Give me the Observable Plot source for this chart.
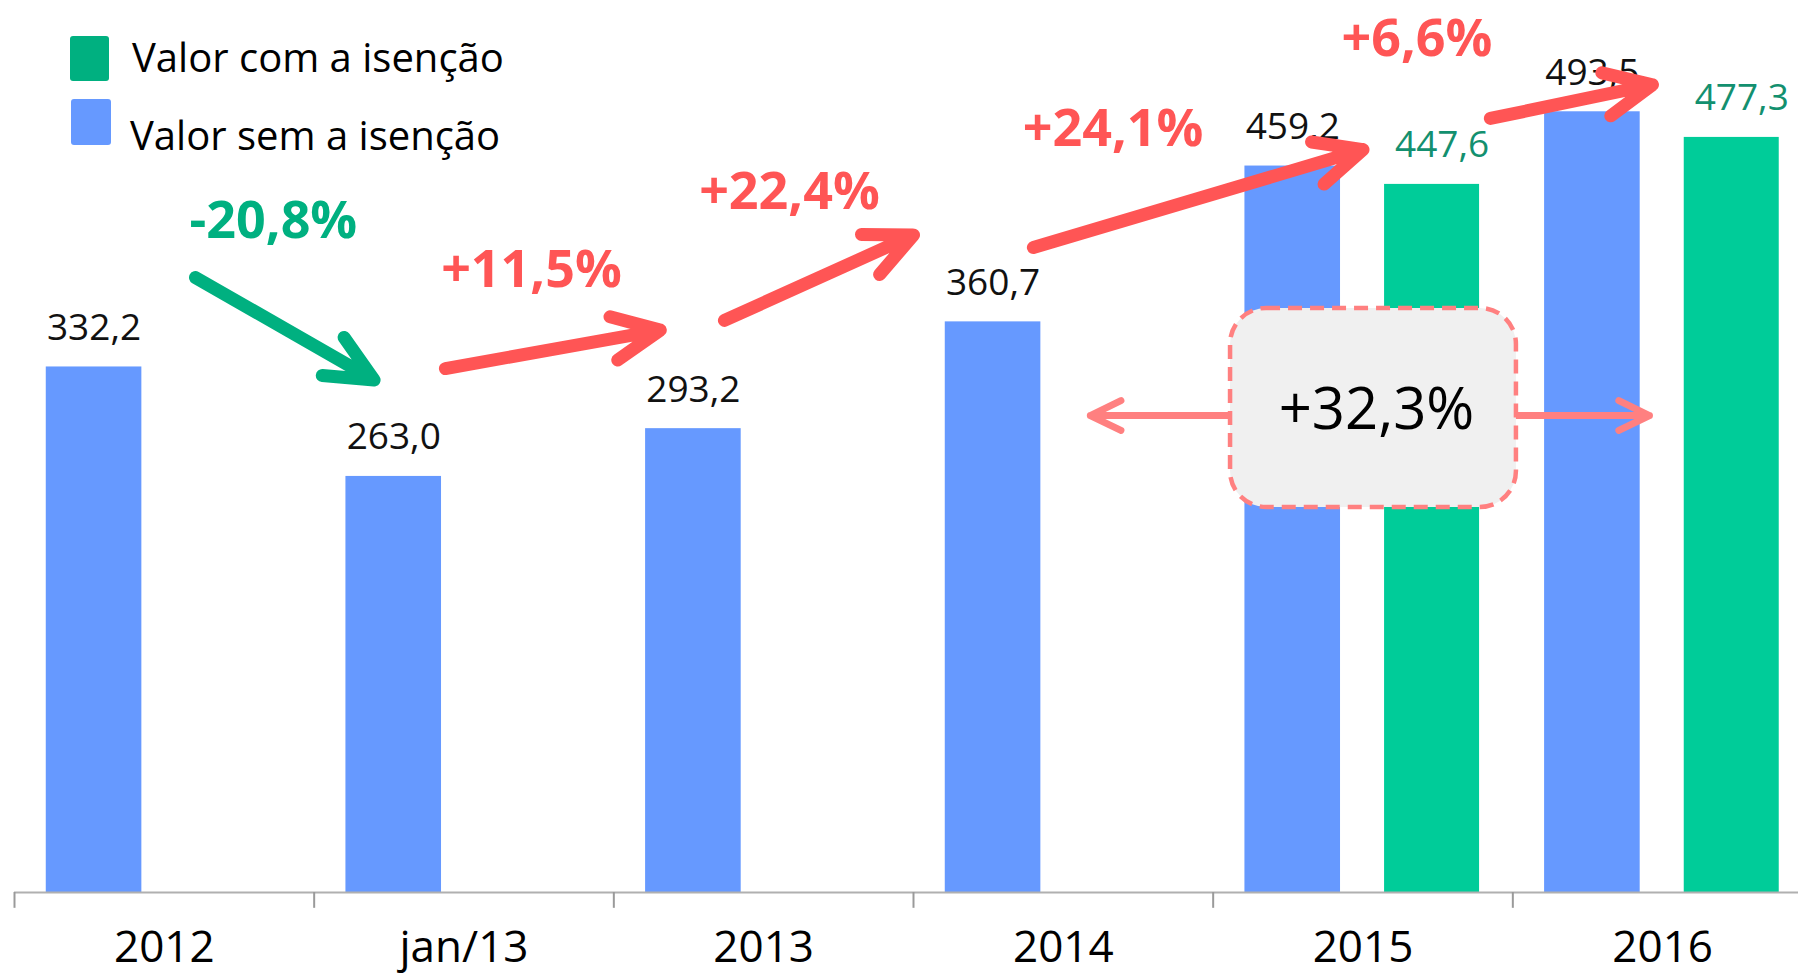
<!DOCTYPE html>
<html>
<head>
<meta charset="utf-8">
<script src="https://cdn.jsdelivr.net/npm/d3@7"></script>
<script src="https://cdn.jsdelivr.net/npm/@observablehq/plot@0.6"></script>
<style>
html, body { margin: 0; padding: 0; overflow: hidden; background: #fff; }
#wrap { position: relative; width: 1798px; height: 975px; overflow: hidden; }
#legend { position: absolute; left: 0; top: 0; font-family: 'Open Sans', sans-serif; color: #000; }
.sw { position: absolute; border-radius: 3px; }
.lt { position: absolute; font-size: 40px; line-height: 1; white-space: nowrap; }
</style>
</head>
<body>
<div id="wrap">
  <div id="chart"></div>
  <div id="legend"></div>
</div>
<script>
// ---------- data ----------
const categories = ["2012", "jan/13", "2013", "2014", "2015", "2016"];
const valorSemIsencao = [332.2, 263.0, 293.2, 360.7, 459.2, 493.5];
const valorComIsencao = [null, null, null, null, 447.6, 477.3];
const seriesNames = ["Valor com a isenção", "Valor sem a isenção"];
const changeLabels = ["-20,8%", "+11,5%", "+22,4%", "+24,1%", "+6,6%"];
const totalChangeLabel = "+32,3%";

// annotation anchors in data units: [category position, value]
const changeArrowStart = [[0.604, 388.7], [1.438, 331.2], [2.369, 361.6], [3.400, 407.7], [4.925, 489.3]];
const changeArrowEnd   = [[1.200, 324.0], [2.155, 355.5], [3.000, 415.6], [4.500, 469.6], [5.466, 510.6]];
const changeLabelAt    = [[0.864, 424.5], [1.725, 393.2], [2.586, 442.7], [3.666, 482.7], [4.680, 539.0]];
const totalBox = {x1: 4.058, x2: 5.012, y1: 243.4, y2: 369.2};
const totalLabelAt = [4.545, 305.0];
const totalArrows = [[4.058, 3.59, 301.5], [5.012, 5.456, 301.5]];

// ---------- styles ----------
const BLUE = "#6699ff", GREEN = "#00cc99", GREEN_DARK = "#00b080", GREEN_TEXT = "#13906f";
const RED = "#ff5555", SALMON = "#ff8080";
const slot = {sem: [0.106, 0.425], com: [0.572, 0.889]};
const fmt = v => v.toFixed(1).replace(".", ",");

const semRows = categories.map((c, i) => ({c, i, v: valorSemIsencao[i]})).filter(d => d.v != null);
const comRows = categories.map((c, i) => ({c, i, v: valorComIsencao[i]})).filter(d => d.v != null);
const idx = d3.range(changeLabels.length);

const plot = Plot.plot({
  width: 1812,
  height: 975,
  marginLeft: 14,
  marginRight: 0,
  marginTop: 101,
  marginBottom: 83,
  x: {domain: [0, 6], axis: null},
  y: {domain: [0, 500], axis: null},
  color: {type: "identity"},
  style: "max-width:none; overflow:visible; background:#fff; font-family:'Open Sans', sans-serif;",
  marks: [
    // bars
    Plot.rectY(semRows, {x1: d => d.i + slot.sem[0], x2: d => d.i + slot.sem[1], y1: 0, y2: d => d.v, fill: BLUE}),
    Plot.rectY(comRows, {x1: d => d.i + slot.com[0], x2: d => d.i + slot.com[1], y1: 0, y2: d => d.v, fill: GREEN}),
    // axis
    Plot.ruleY([0], {stroke: "#b0b0b0", strokeWidth: 2}),
    Plot.ruleX(d3.range(categories.length + 1), {y1: 0, y2: -10, stroke: "#9a9a9a", strokeWidth: 2}),
    Plot.text(categories, {x: (d, i) => i + 0.5, y: 0, text: d => d, dy: 55, fontSize: 44, fill: "#000"}),
    // value labels
    Plot.text(semRows, {x: d => d.i + (slot.sem[0] + slot.sem[1]) / 2, y: d => d.v, text: d => fmt(d.v), dy: -39, fontSize: 37, fill: "#111"}),
    Plot.text(comRows, {x: d => d.i + (slot.com[0] + slot.com[1]) / 2, y: d => d.v, text: d => fmt(d.v), dy: -39, dx: 10, fontSize: 37, fill: GREEN_TEXT}),
    // change arrows
    Plot.arrow(idx, {
      x1: i => changeArrowStart[i][0], y1: i => changeArrowStart[i][1],
      x2: i => changeArrowEnd[i][0], y2: i => changeArrowEnd[i][1],
      stroke: i => i === 0 ? GREEN_DARK : RED,
      strokeWidth: 13, headLength: 6, headAngle: 50,
      strokeLinecap: "round", strokeLinejoin: "miter"
    }),
    Plot.text(idx, {
      x: i => changeLabelAt[i][0], y: i => changeLabelAt[i][1],
      text: i => changeLabels[i],
      fill: i => i === 0 ? GREEN_DARK : RED,
      fontSize: 52, fontWeight: "bold"
    }),
    // total change
    Plot.arrow(totalArrows, {
      x1: d => d[0], x2: d => d[1], y1: d => d[2], y2: d => d[2],
      stroke: SALMON, strokeWidth: 7, headLength: 7.3, headAngle: 52,
      strokeLinecap: "round", strokeLinejoin: "miter"
    }),
    Plot.rect([totalBox], {
      x1: "x1", x2: "x2", y1: "y1", y2: "y2",
      fill: "#f0f0f0", stroke: SALMON, strokeWidth: 4.5, strokeDasharray: "14,8", rx: 36
    }),
    Plot.text([totalChangeLabel], {x: totalLabelAt[0], y: totalLabelAt[1], text: d => d, fontSize: 58, fill: "#000"})
  ]
});
document.getElementById("chart").appendChild(plot);

// legend (HTML overlay)
const legend = document.getElementById("legend");
const legendItems = [
  {name: seriesNames[0], color: GREEN_DARK, sw: [70, 35.5, 39, 45], tx: [132, 59]},
  {name: seriesNames[1], color: BLUE, sw: [71, 98.5, 40, 46], tx: [130, 137]}
];
legendItems.forEach(it => {
  const s = document.createElement("div");
  s.className = "sw";
  Object.assign(s.style, {left: it.sw[0] + "px", top: it.sw[1] + "px", width: it.sw[2] + "px", height: it.sw[3] + "px", background: it.color});
  legend.appendChild(s);
  const t = document.createElement("div");
  t.className = "lt";
  t.textContent = it.name;
  Object.assign(t.style, {left: it.tx[0] + "px", top: (it.tx[1] - 22) + "px"});
  legend.appendChild(t);
});
</script>
</body>
</html>
